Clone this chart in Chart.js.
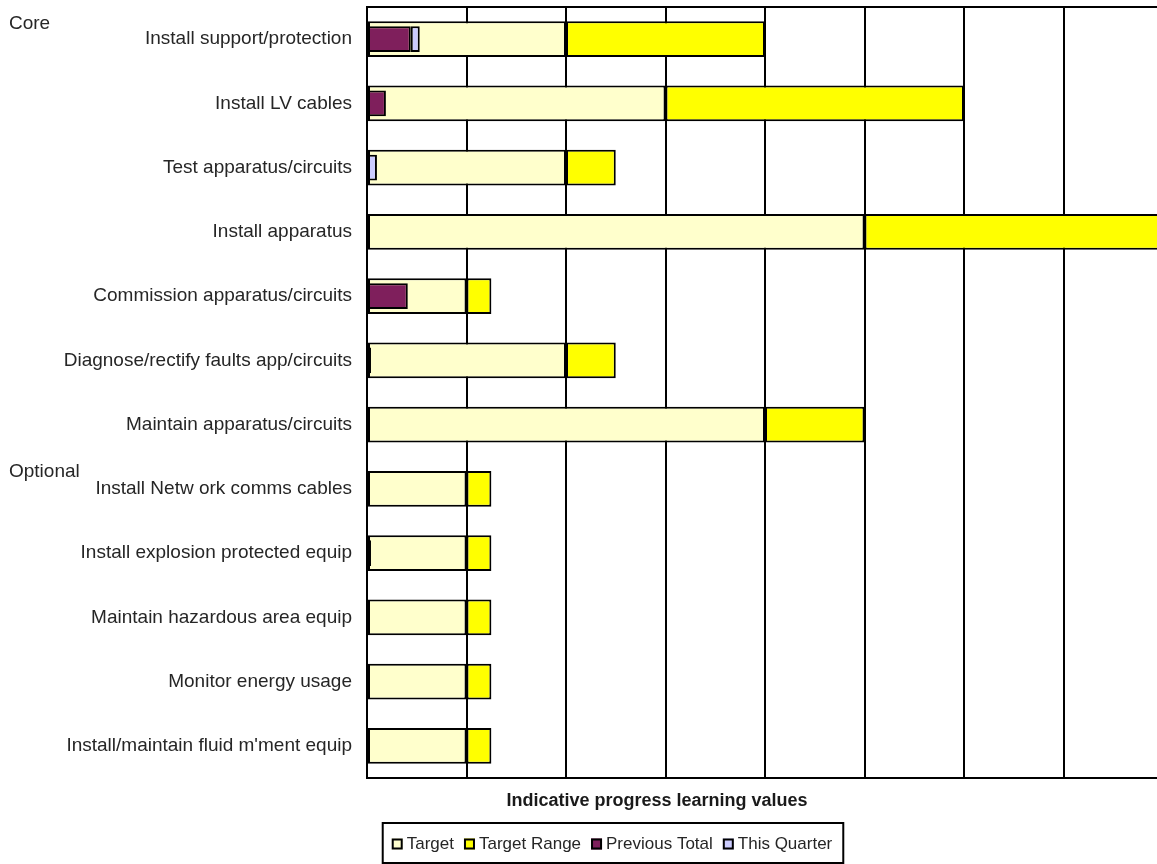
<!DOCTYPE html>
<html>
<head>
<meta charset="utf-8">
<script src="https://cdn.jsdelivr.net/npm/chart.js@4/dist/chart.umd.min.js"></script>
<style>
  html, body { margin: 0; padding: 0; background: #fff; overflow: hidden; }
  #wrap { width: 1157px; height: 864px; overflow: hidden; }
  canvas { display: block; }
</style>
</head>
<body>
<div id="wrap"><canvas id="c" width="1175" height="864"></canvas></div>
<script>
// Units of learning per unit competency
const units = [
  'Install support/protection',
  'Install LV cables',
  'Test apparatus/circuits',
  'Install apparatus',
  'Commission apparatus/circuits',
  'Diagnose/rectify faults app/circuits',
  'Maintain apparatus/circuits',
  'Install Netw ork comms cables',
  'Install explosion protected equip',
  'Maintain hazardous area equip',
  'Monitor energy usage',
  'Install/maintain fluid m\'ment equip'
];

// Group headings and the unit index where each group starts
const groupNames = ['Core', 'Optional'];
const groupStarts = [0, 7];

// Indicative progress learning values
const target        = [2, 3, 2, 5, 1, 2, 4, 1, 1, 1, 1, 1];
const targetRange   = [2, 3, 0.5, 3, 0.25, 0.5, 1, 0.25, 0.25, 0.25, 0.25, 0.25];
const previousTotal = [0.44, 0.19, null, null, 0.41, 0.04, null, null, 0.04, null, null, null];
const thisQuarter   = [0.09, null, 0.1, null, null, null, null, null, null, null, null, null];

const axisMax = 8;
const axisTitle = 'Indicative progress learning values';

const FONT = '"Liberation Sans", Arial, sans-serif';
const TEXT = '#262626';

// Plot frame, axis title, group headings and the boxed legend
const decorations = {
  id: 'decorations',
  afterDraw(chart) {
    const { ctx, chartArea: a } = chart;
    ctx.save();
    ctx.strokeStyle = '#000';
    ctx.lineWidth = 2;
    ctx.strokeRect(a.left, a.top, a.right - a.left, a.bottom - a.top);

    // group headings
    const yScale = chart.scales.y;
    ctx.fillStyle = TEXT;
    ctx.font = '19px ' + FONT;
    ctx.textAlign = 'left';
    ctx.textBaseline = 'middle';
    groupNames.forEach((g, i) => {
      const yc = yScale.getPixelForValue(groupStarts[i]);
      ctx.fillText(g, 9, yc - (i === 0 ? 15 : 17));
    });

    // axis title
    ctx.font = 'bold 18px ' + FONT;
    ctx.textAlign = 'center';
    ctx.fillStyle = '#1a1a1a';
    ctx.fillText(axisTitle, a.left + 290, a.bottom + 23);

    // legend
    ctx.font = '17px ' + FONT;
    const ds = chart.data.datasets;
    const sq = 11, gapTxt = 4, gapItem = 10;
    const widths = ds.map(d => ctx.measureText(d.label).width);
    const total = widths.reduce((s, w) => s + sq + gapTxt + w, 0) + gapItem * (ds.length - 1);
    const padX = 9;
    const cx = a.left + 245;
    let x = cx - total / 2;
    const top = a.bottom + 45, h = 40, yMid = top + h / 2 + 1;
    ctx.strokeRect(x - padX, top, total + padX * 2 + 2, h);
    ctx.textAlign = 'left';
    ds.forEach((d, i) => {
      ctx.fillStyle = d.backgroundColor;
      ctx.fillRect(x, yMid - sq / 2, sq, sq);
      ctx.lineWidth = 2;
      ctx.strokeStyle = '#000';
      ctx.strokeRect(x + 1, yMid - sq / 2 + 1, sq - 2, sq - 2);
      ctx.fillStyle = TEXT;
      ctx.fillText(d.label, x + sq + gapTxt, yMid);
      x += sq + gapTxt + widths[i] + gapItem;
    });
    ctx.restore();
  }
};

// Goal bars and progress bars sit centred on the same row, not side by side
const barBase = {
  borderColor: '#000',
  borderWidth: 2,
  borderSkipped: false,
  categoryPercentage: 1,
  grouped: false
};

new Chart(document.getElementById('c'), {
  type: 'bar',
  data: {
    labels: units,
    datasets: [
      { ...barBase, label: 'Target', data: target, backgroundColor: '#FFFFCC',
        stack: 'goal', order: 2, barPercentage: 0.56 },
      { ...barBase, label: 'Target Range', data: targetRange, backgroundColor: '#FFFF00',
        stack: 'goal', order: 2, barPercentage: 0.56 },
      { ...barBase, label: 'Previous Total', data: previousTotal, backgroundColor: '#7F1F5C',
        stack: 'progress', order: 1, barPercentage: 0.4 },
      { ...barBase, label: 'This Quarter', data: thisQuarter, backgroundColor: '#CCCCFF',
        stack: 'progress', order: 1, barPercentage: 0.4 }
    ]
  },
  options: {
    indexAxis: 'y',
    responsive: false,
    animation: false,
    layout: { padding: { left: 0, top: 7, right: 12, bottom: 86 } },
    plugins: { legend: { display: false }, tooltip: { enabled: false }, title: { display: false } },
    scales: {
      x: {
        min: 0, max: axisMax, stacked: true,
        ticks: { display: false, stepSize: 1 },
        grid: { color: '#000', lineWidth: 2, drawTicks: false },
        border: { color: '#000', width: 2 },
        afterFit(s) { s.height = 0; s.paddingLeft = 0; s.paddingRight = 0; }
      },
      y: {
        ticks: { color: TEXT, font: { family: FONT, size: 19 }, padding: 15 },
        grid: { display: false, drawTicks: false },
        border: { color: '#000', width: 2 },
        afterFit(s) { s.width = 367; s.paddingTop = 0; s.paddingBottom = 0; }
      }
    }
  },
  plugins: [decorations]
});
</script>
</body>
</html>
